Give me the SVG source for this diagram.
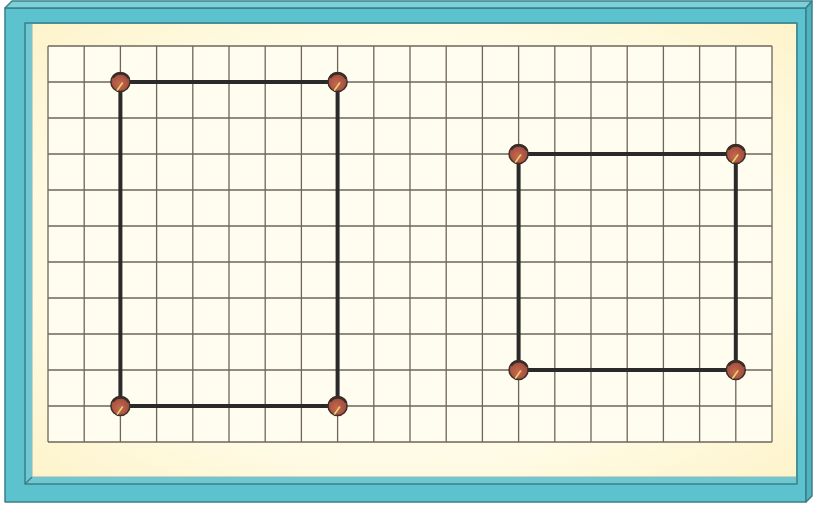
<svg xmlns="http://www.w3.org/2000/svg" width="814" height="505" viewBox="0 0 814 505">
  <defs>
    <style>
      .edge { stroke: #3c7f88; stroke-width: 1.5; stroke-linejoin: round; }
      .grid { fill: none; stroke: #6f665a; stroke-width: 1.3; }
      .band { fill: none; stroke: #2a2a2a; stroke-width: 4; stroke-linejoin: miter; }
      .needle { stroke: #e9d46a; stroke-width: 1.6; stroke-linecap: round; }
    </style>
    <radialGradient id="pinFill" cx="0.45" cy="0.6" r="0.6">
      <stop offset="0" stop-color="#c8684f"/>
      <stop offset="1" stop-color="#9a4a3a"/>
    </radialGradient>
    <radialGradient id="panelFill" cx="0.5" cy="0.5" r="0.75">
      <stop offset="0.6" stop-color="#fffbe6"/>
      <stop offset="1" stop-color="#fdf2c6"/>
    </radialGradient>
    <g id="pin">
      <circle cx="0" cy="0" r="9.5" fill="url(#pinFill)" stroke="#3e2f2a" stroke-width="1.5"/>
      <path d="M -7.5 -4.5 A 9.5 9.5 0 0 1 8.5 -3.5" fill="none" stroke="#3a2c28" stroke-width="2.5"/>
      <line class="needle" x1="2" y1="1" x2="-3" y2="8"/>
    </g>
  </defs>

  <g id="frame">
    <polygon points="5,8 806,8 806,502 5,502" fill="#5bc2ce" class="edge"/>
    <polygon points="5,8 12,1 812,1 806,8" fill="#7dd0da" class="edge"/>
    <polygon points="806,8 812,1 812,496 806,502" fill="#4fb3bf" class="edge"/>
  </g>

  <g id="panel">
    <rect x="25" y="23" width="772" height="461" fill="#6ec8d2" class="edge"/>
    <rect x="32" y="24" width="764" height="453" fill="url(#panelFill)"/>
    <line x1="25" y1="484" x2="32" y2="477" class="edge"/>
    <line x1="32" y1="477" x2="796" y2="477" stroke="#8fb8b6" stroke-width="1"/>
    <line x1="32" y1="24" x2="32" y2="477" stroke="#8fb8b6" stroke-width="1"/>
  </g>

  <g id="grid">
    <rect x="48" y="46" width="724" height="396" fill="#fffcf0"/>
    <path class="grid" d="M48 46V442 M84.2 46V442 M120.4 46V442 M156.6 46V442 M192.8 46V442 M229 46V442 M265.2 46V442 M301.4 46V442 M337.6 46V442 M373.8 46V442 M410 46V442 M446.2 46V442 M482.4 46V442 M518.6 46V442 M554.8 46V442 M591 46V442 M627.2 46V442 M663.4 46V442 M699.6 46V442 M735.8 46V442 M772 46V442 M48 46H772 M48 82H772 M48 118H772 M48 154H772 M48 190H772 M48 226H772 M48 262H772 M48 298H772 M48 334H772 M48 370H772 M48 406H772 M48 442H772"/>
  </g>

  <g id="connectors">
    <rect class="band" x="120.4" y="82" width="217.2" height="324"/>
    <rect class="band" x="518.6" y="154" width="217.2" height="216"/>
  </g>

  <g id="pin-a1"><use href="#pin" x="120.4" y="82"/></g>
  <g id="pin-a2"><use href="#pin" x="337.6" y="82"/></g>
  <g id="pin-a3"><use href="#pin" x="120.4" y="406"/></g>
  <g id="pin-a4"><use href="#pin" x="337.6" y="406"/></g>
  <g id="pin-b1"><use href="#pin" x="518.6" y="154"/></g>
  <g id="pin-b2"><use href="#pin" x="735.8" y="154"/></g>
  <g id="pin-b3"><use href="#pin" x="518.6" y="370"/></g>
  <g id="pin-b4"><use href="#pin" x="735.8" y="370"/></g>
</svg>
